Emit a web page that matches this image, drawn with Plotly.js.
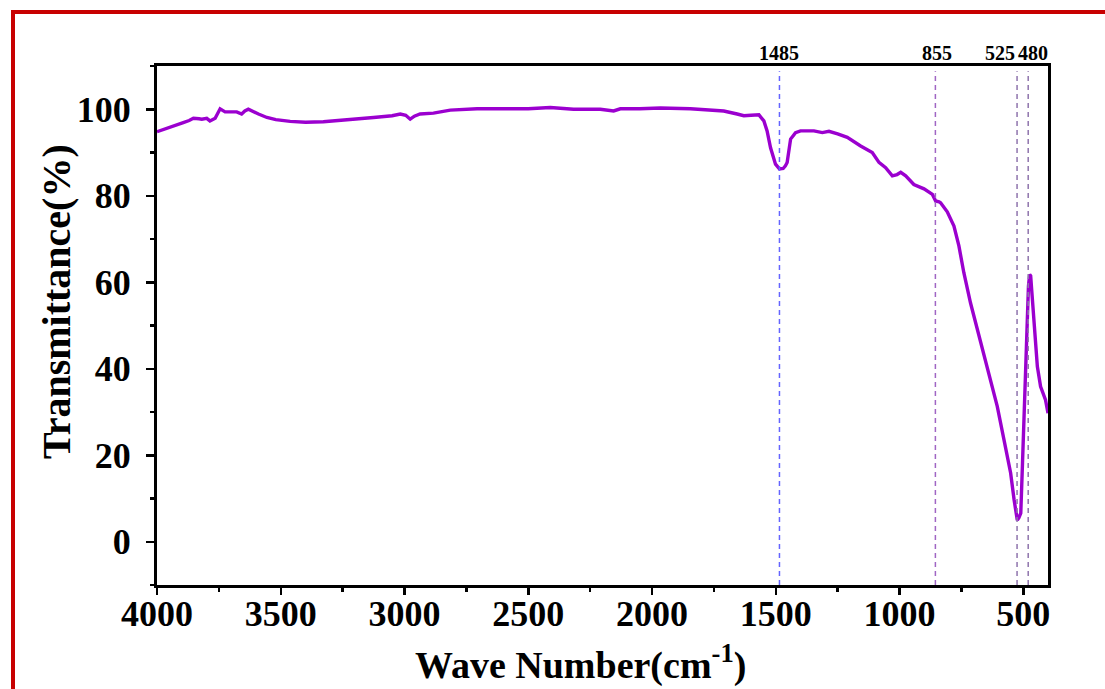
<!DOCTYPE html>
<html>
<head>
<meta charset="utf-8">
<script src="https://cdn.plot.ly/plotly-3.0.1.min.js"></script>
<style>
  html, body { margin: 0; padding: 0; background: #fff; }
  #wrap { position: relative; width: 1105px; height: 689px; }
  #chart { width: 1105px; height: 689px; }
  #frame { position: absolute; left: 11px; top: 10px; right: 0; bottom: 0;
           border-top: 4px solid #c80000; border-left: 4px solid #c80000; pointer-events: none; }
</style>
</head>
<body>
<div id="wrap">
  <div id="chart"></div>
  <div id="frame"></div>
</div>
<script>
// FTIR spectrum values
const wavenumber = [4000, 3950, 3894, 3870, 3853, 3830, 3819, 3799, 3786, 3765, 3755, 3745, 3725, 3700, 3678, 3658, 3645, 3631, 3611, 3590, 3556, 3520, 3462, 3400, 3328, 3233, 3125, 3050, 3017, 2995, 2977, 2960, 2937, 2883, 2815, 2707, 2600, 2500, 2411, 2317, 2249, 2209, 2155, 2128, 2050, 1966, 1845, 1750, 1710, 1656, 1629, 1600, 1568, 1548, 1535, 1521, 1501, 1485, 1470, 1461, 1454, 1440, 1420, 1400, 1346, 1312, 1285, 1250, 1211, 1157, 1110, 1083, 1056, 1029, 1010, 995, 975, 942, 901, 867, 854, 840, 834, 807, 780, 760, 740, 713, 679, 645, 605, 578, 551, 537, 528, 524, 518, 510, 503, 497, 490, 486, 479, 474, 470, 466, 457, 443, 430, 410, 400];
const transmittance = [94.8, 95.7, 96.9, 97.4, 97.9, 97.8, 97.7, 97.9, 97.3, 97.9, 99.0, 100.1, 99.4, 99.5, 99.4, 98.9, 99.6, 100.0, 99.4, 98.9, 98.1, 97.6, 97.2, 97.0, 97.1, 97.5, 98.1, 98.5, 98.9, 98.6, 97.7, 98.4, 98.9, 99.1, 99.8, 100.1, 100.1, 100.1, 100.4, 100.0, 100.0, 100.0, 99.6, 100.1, 100.1, 100.3, 100.1, 99.8, 99.6, 98.9, 98.5, 98.6, 98.7, 97.3, 95.0, 91.1, 87.3, 86.2, 86.3, 86.9, 87.7, 93.1, 94.6, 95.0, 95.0, 94.6, 94.9, 94.3, 93.5, 91.5, 90.0, 87.7, 86.5, 84.6, 84.9, 85.4, 84.6, 82.6, 81.6, 80.3, 78.8, 78.6, 78.4, 76.3, 73.0, 68.4, 62.2, 55.2, 47.5, 39.8, 31.3, 23.6, 15.9, 9.7, 5.5, 5.0, 5.5, 6.6, 18.2, 29.7, 41.3, 51.4, 59.1, 61.8, 61.5, 58.3, 51.4, 40.5, 35.9, 32.8, 29.7];

// Marked peaks
const peakPositions = [1485, 855, 525, 480];
const peakLabels = ["1485", "855", "525", "480"];
const peakColors = ["#6464ff", "#a066c4", "#8f74ad", "#8f74ad"];
const peakLabelShift = [0, 2, -17, 5];

const xTickVals = [4000, 3500, 3000, 2500, 2000, 1500, 1000, 500];
const yTickVals = [0, 20, 40, 60, 80, 100];

const xTitle = "Wave Number(cm<sup>-1</sup>)";
const yTitle = "Transmittance(%)";

const serif = "Liberation Serif, Times New Roman, serif";

const trace = {
  x: wavenumber, y: transmittance, type: "scatter", mode: "lines",
  line: { color: "#9b00cf", width: 3.4 },
  hoverinfo: "x+y", showlegend: false
};

const shapes = peakPositions.map((p, i) => ({
  type: "line", xref: "x", yref: "paper", x0: p, x1: p, y0: 0, y1: 0.99,
  line: { color: peakColors[i], width: 1.5, dash: "5px,4px" }
}));

const annotations = peakPositions.map((p, i) => ({
  x: p, xref: "x", y: 1, yref: "paper", yanchor: "middle", yshift: 13,
  xshift: peakLabelShift[i], text: peakLabels[i], showarrow: false,
  font: { family: serif, size: 20, color: "#000", weight: "bold" }
}));

// axis titles as annotations (reference titles are off-centre)
annotations.push({
  text: xTitle, xref: "paper", yref: "paper", x: (580 - 157) / 891, y: (585 - 662) / 519,
  xanchor: "center", yanchor: "middle", showarrow: false,
  font: { family: serif, size: 38, color: "#000", weight: "bold" }
});
annotations.push({
  text: yTitle, xref: "paper", yref: "paper", x: (56 - 157) / 891, y: (585 - 302) / 519,
  xanchor: "center", yanchor: "middle", showarrow: false, textangle: -90,
  font: { family: serif, size: 40, color: "#000", weight: "bold" }
});

const layout = {
  width: 1105, height: 689,
  margin: { l: 157, r: 57, t: 66, b: 104 },
  paper_bgcolor: "#fff", plot_bgcolor: "#fff",
  xaxis: {
    range: [4000, 400], tickvals: xTickVals, ticktext: xTickVals.map(String),
    ticks: "outside", ticklen: 7, tickwidth: 2.5, tickcolor: "#000",
    ticklabelstandoff: -12,
    minor: { dtick: 250, tick0: 0, ticks: "outside", ticklen: 4, tickwidth: 2.5, tickcolor: "#000" },
    showline: true, linewidth: 3, linecolor: "#000", mirror: true,
    showgrid: false, zeroline: false,
    tickfont: { family: serif, size: 36, color: "#000", weight: "bold" }
  },
  yaxis: {
    range: [-10, 110], tickvals: yTickVals, ticktext: yTickVals.map(String),
    ticks: "outside", ticklen: 8, tickwidth: 2.5, tickcolor: "#000",
    ticklabelstandoff: 8,
    minor: { dtick: 10, tick0: 10, ticks: "outside", ticklen: 4, tickwidth: 2.5, tickcolor: "#000" },
    showline: true, linewidth: 3, linecolor: "#000", mirror: true,
    showgrid: false, zeroline: false,
    tickfont: { family: serif, size: 36, color: "#000", weight: "bold" }
  },
  shapes: shapes,
  annotations: annotations
};

Plotly.newPlot("chart", [trace], layout, { displayModeBar: false, staticPlot: true });
</script>
</body>
</html>
